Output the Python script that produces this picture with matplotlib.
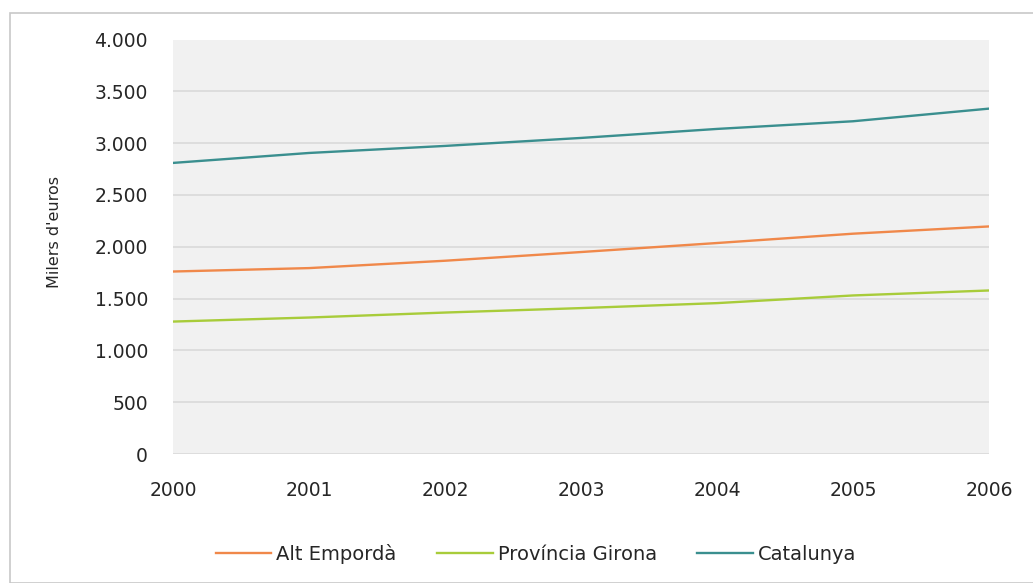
import matplotlib
matplotlib.use("Agg")
import matplotlib.pyplot as plt
from matplotlib.patches import Rectangle
from matplotlib.ticker import FuncFormatter, MultipleLocator

years = [2000, 2001, 2002, 2003, 2004, 2005, 2006]
alt_emporda = [1761, 1794, 1865, 1949, 2036, 2126, 2196]
provincia_girona = [1278, 1317, 1365, 1408, 1456, 1530, 1578]
catalunya = [2809, 2905, 2973, 3050, 3137, 3211, 3333]
series_names = ["Alt Empordà", "Província Girona", "Catalunya"]
y_label = "Milers d'euros"

plt.rcParams['font.family'] = ['DejaVu Sans']

W, H = 1033, 583
fig = plt.figure(figsize=(W / 100, H / 100), dpi=100)
fig.patch.set_facecolor('white')

# outer frame
fig.patches.append(Rectangle((9.5 / W, 0), 1.2, 1 - 12.5 / H, transform=fig.transFigure,
                             fill=False, edgecolor='#c8c8c8', linewidth=1.2))

left, right, top, bottom = 173, 989, 39.5, 454
ax = fig.add_axes([left / W, 1 - bottom / H, (right - left) / W, (bottom - top) / H])
ax.set_facecolor('#f1f1f1')

colors = ['#f0884a', '#a8cc3a', '#3a8f8f']
for vals, name, c in zip([alt_emporda, provincia_girona, catalunya], series_names, colors):
    ax.plot(years, vals, color=c, linewidth=1.7, label=name)

ax.set_xlim(2000, 2006)
ax.set_ylim(0, 4000)
ax.yaxis.set_major_locator(MultipleLocator(500))
ax.xaxis.set_major_locator(MultipleLocator(1))
ax.yaxis.set_major_formatter(FuncFormatter(lambda v, p: f"{int(v):,}".replace(",", ".")))
ax.xaxis.set_major_formatter(FuncFormatter(lambda v, p: f"{int(v)}"))
ax.grid(axis='y', color='#d9d9d9', linewidth=1.2)
ax.set_axisbelow(True)
for s in ax.spines.values():
    s.set_visible(False)
ax.tick_params(axis='both', length=0, labelsize=13.5, colors='#262626')
ax.tick_params(axis='y', pad=18)
ax.tick_params(axis='x', pad=19.5)
ax.set_ylabel(y_label, fontsize=11.5, color='#262626')
ax.yaxis.set_label_coords((62 - left) / (right - left), (bottom - 232) / (bottom - top))

leg = fig.legend(loc='center', bbox_to_anchor=(536 / W, 1 - 554 / H), ncol=3, frameon=False,
                 fontsize=14, handlelength=2.85, handletextpad=0.25, columnspacing=2.1)
for line in leg.get_lines():
    line.set_linewidth(1.7)
for t in leg.get_texts():
    t.set_color('#262626')

fig.savefig('out.png', dpi=100, facecolor='white')
